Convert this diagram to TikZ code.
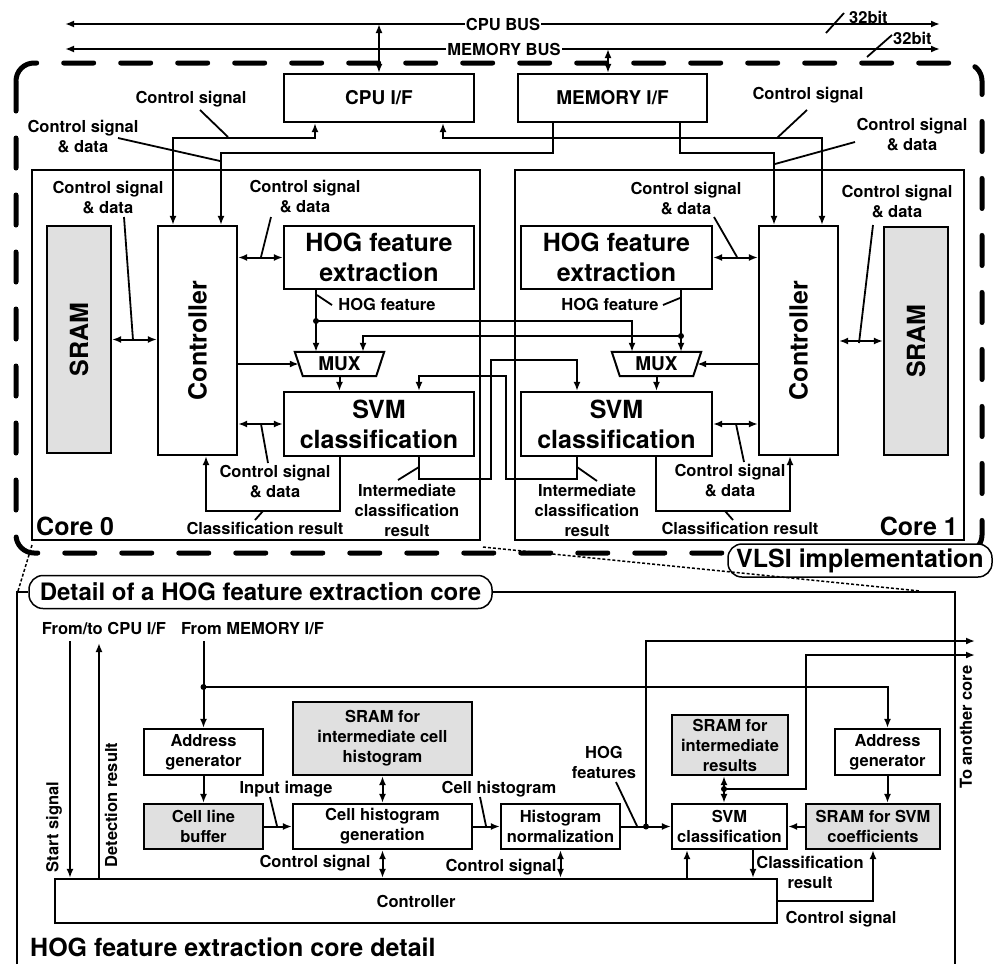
\documentclass[tikz,border=0pt]{standalone}
\usepackage{fontspec}
\setmainfont{TeX Gyre Heros}
\usetikzlibrary{arrows.meta,calc}
\definecolor{sramgray}{RGB}{224,224,224}
\newcommand\txtS{\fontsize{16.5}{20}\selectfont\bfseries}
\newcommand\txtL{\fontsize{25}{30}\selectfont\bfseries}
\newcommand\txtM{\fontsize{19}{22}\selectfont\bfseries}
\newcommand\txtT{\fontsize{24}{28}\selectfont\bfseries}
\tikzset{
 wire/.style={line width=2pt},
 box/.style={draw, line width=2.2pt, inner sep=0pt, align=center},
 gbox/.style={box, fill=sramgray},
 lbl/.style={inner sep=0pt, align=center, font=\txtS},
 lead/.style={line width=1.8pt},
 dotm/.style={circle, fill, inner sep=0pt, minimum size=6pt},
 tag/.style={draw, fill=white, rounded corners=14pt, line width=1.5pt, inner sep=0pt, minimum height=33pt},
 >={Latex[length=9pt,width=7pt]},
}
\begin{document}
\begin{tikzpicture}[x=1pt,y=-1pt]
\useasboundingbox (0,0) rectangle (995,964);
\fill[white] (0,0) rectangle (995,964);

% dashed VLSI frame
\draw[line width=5pt, dash pattern=on 30pt off 27pt, line cap=round, rounded corners=18pt] (16,63) rectangle (982,553);

% buses
\coordinate (cbL) at (65,24); \coordinate (cbR) at (940,24);
\coordinate (mbL) at (65,49); \coordinate (mbR) at (940,49);
\draw[wire,<->] (cbL) -- (cbR);
\draw[wire,<->] (mbL) -- (mbR);
\node[lbl, fill=white, inner xsep=1pt, inner ysep=2pt] (cpubus) at (503,24) {CPU BUS};
\node[lbl, fill=white, inner xsep=1pt, inner ysep=2pt] (membus) at (504,49) {MEMORY BUS};
\draw[lead] (826,33) -- (844,13);
\node[lbl, anchor=west] (bw1) at (849,17) {32bit};
\draw[lead] (867,57) -- (892,35);
\node[lbl, anchor=west] (bw2) at (893,38) {32bit};

% interfaces
\node[box, minimum width=190pt, minimum height=48pt, font=\txtM] (cpuif) at (379,98) {CPU I/F};
\node[box, minimum width=189pt, minimum height=48pt, font=\txtM] (memif) at (612.5,98) {MEMORY I/F};
\draw[wire,<->] (cpuif.north) -- (cpuif.north |- cbL);
\coordinate (mbx) at (608,49);
\draw[wire,<->] (memif.north -| mbx) -- (mbx);

% cores
\node[box, minimum width=448pt, minimum height=370pt] (core0) at (256,355) {};
\node[box, minimum width=449pt, minimum height=370pt] (core1) at (739.5,355) {};

% core 0 blocks
\node[gbox, minimum width=64pt, minimum height=227pt] (sram0) at (79,339.5) {};
\node[rotate=90, font=\txtL, inner sep=0pt] (sram0t) at (sram0) {SRAM};
\node[box, minimum width=79pt, minimum height=229pt] (ctrl0) at (197.5,340.5) {};
\node[rotate=90, font=\txtL, inner sep=0pt] (ctrl0t) at (ctrl0) {Controller};
\node[box, minimum width=190pt, minimum height=63pt, font=\txtL] (hog0) at (379,257.5) {HOG feature\\extraction};
\node[box, minimum width=190pt, minimum height=64pt, font=\txtL] (svm0) at (379,424) {SVM\\classification};
\node[inner sep=0pt, minimum width=89pt, minimum height=24pt, font=\txtM] (mux0) at (339.5,364) {MUX};
\draw[wire] (mux0.north west) -- (mux0.north east) -- ([xshift=-8pt]mux0.south east) -- ([xshift=8pt]mux0.south west) -- cycle;

% core 1 blocks
\node[box, minimum width=191pt, minimum height=63pt, font=\txtL] (hog1) at (616.5,257.5) {HOG feature\\extraction};
\node[box, minimum width=191pt, minimum height=64pt, font=\txtL] (svm1) at (616.5,424) {SVM\\classification};
\node[box, minimum width=79pt, minimum height=229pt] (ctrl1) at (798.5,340.5) {};
\node[rotate=90, font=\txtL, inner sep=0pt] (ctrl1t) at (ctrl1) {Controller};
\node[gbox, minimum width=64pt, minimum height=228pt] (sram1) at (916,341) {};
\node[rotate=90, font=\txtL, inner sep=0pt] (sram1t) at (sram1) {SRAM};
\node[inner sep=0pt, minimum width=89pt, minimum height=24pt, font=\txtM] (mux1) at (656.5,364) {MUX};
\draw[wire] (mux1.north west) -- (mux1.north east) -- ([xshift=-8pt]mux1.south east) -- ([xshift=8pt]mux1.south west) -- cycle;

% interface wires
\draw[wire,<->] (ctrl0.north -| 173,0) -- (173,138) -- (315,138) -- (cpuif.south -| 315,0);
\draw[wire,->] (memif.south -| 553,0) -- (553,153) -- (221,153) -- (ctrl0.north -| 221,0);
\draw[wire,->] (memif.south -| 680,0) -- (680,153) -- (774,153) -- (ctrl1.north -| 774,0);
\draw[wire,<->] (cpuif.south -| 443,0) -- (443,138) -- (822,138) -- (ctrl1.north -| 822,0);

% core 0 wires
\draw[wire,<->] (sram0.east) -- (ctrl0.west |- sram0.east);
\draw[wire,<->] (ctrl0.east |- hog0.west) -- (hog0.west);
\draw[wire,<->] (ctrl0.east |- svm0.west) -- (svm0.west);
\draw[wire,->] (ctrl0.east |- mux0.west) -- ([xshift=4pt]mux0.west);
\node[dotm] (dot0) at (316,321) {};
\draw[wire,->] (hog0.south -| dot0) -- (mux0.north -| dot0);
\draw[wire,->] (mux0.south) -- (svm0.north -| mux0.south);

% core 1 wires
\draw[wire,<->] (sram1.west) -- (ctrl1.east |- sram1.west);
\draw[wire,<->] (ctrl1.west |- hog1.east) -- (hog1.east);
\draw[wire,<->] (ctrl1.west |- svm1.east) -- (svm1.east);
\draw[wire,->] (ctrl1.west |- mux1.east) -- ([xshift=-4pt]mux1.east);
\node[dotm] (dot1) at (681,336) {};
\draw[wire,->] (hog1.south -| dot1) -- (mux1.north -| dot1);
\draw[wire,->] (mux1.south) -- (svm1.north -| mux1.south);

% cross feeds
\draw[wire,->] (dot0.center) -- (632,321) -- (mux1.north -| 632,0);
\draw[wire,->] (dot1.center) -- (363,336) -- (mux0.north -| 363,0);
\draw[wire,->] (svm0.south -| 419,0) -- (419,479) -- (491,479) -- (491,360) -- (577,360) -- (svm1.north -| 577,0);
\draw[wire,->] (svm1.south -| 577,0) -- (577,479) -- (506,479) -- (506,376) -- (419,376) -- (svm0.north -| 419,0);

% classification result loops
\draw[wire,->] (svm0.south -| 340,0) -- (340,511) -- (206,511) -- (ctrl0.south -| 206,0);
\draw[wire,->] (svm1.south -| 656,0) -- (656,511) -- (790,511) -- (ctrl1.south -| 790,0);

% top labels
\node[lbl] (t1) at (191,99) {Control signal};
\node[lbl] (t2) at (83,137) {Control signal\\\& data};
\node[lbl] (t3) at (808,95) {Control signal};
\node[lbl] (t4) at (912,135) {Control signal\\\& data};
\draw[lead] (200,110) -- (228,137);
\draw[lead] (118,138) -- (220,161);
\draw[lead] (807,110) -- (777,138);
\draw[lead] (855,142) -- (775,164);

% core labels
\node[lbl] (t5) at (108,198) {Control signal\\\& data};
\node[lbl] (t6) at (305,196.5) {Control signal\\\& data};
\node[lbl] (t7) at (686,199) {Control signal\\\& data};
\node[lbl] (t8) at (897,202) {Control signal\\\& data};
\draw[lead] (124,217) -- (133,340);
\draw[lead] (271,217) -- (261,257);
\draw[lead] (714,217) -- (737,257);
\draw[lead] (873,225) -- (859,343);
\node[lbl] (hf0) at (387,304) {HOG feature};
\node[lbl] (hf1) at (610,304) {HOG feature};
\draw[lead] (317,295) -- (332,305);
\draw[lead] (680,298) -- (663,305);
\node[lbl] (t9) at (275,482) {Control signal\\\& data};
\node[lbl] (t10) at (730,481) {Control signal\\\& data};
\draw[lead] (261,424) -- (268,463);
\draw[lead] (736,424) -- (744,462);
\node[lbl] (t11) at (407,510) {Intermediate\\classification\\result};
\node[lbl] (t12) at (587,510) {Intermediate\\classification\\result};
\draw[lead] (398,480) -- (419,467);
\draw[lead] (597,481) -- (577,467);
\node[lbl] (t13) at (265,528) {Classification result};
\node[lbl] (t14) at (740,528) {Classification result};
\draw[lead] (255,520) -- (263,511);
\draw[lead] (733,520) -- (725,511);
\node[font=\txtL, anchor=west, inner sep=0pt] (c0l) at (36,526) {Core 0};
\node[font=\txtL, anchor=east, inner sep=0pt] (c1l) at (958,526) {Core 1};

% detail frame
\node[tag, minimum width=264pt, font=\txtL] (vlsi) at (860,560.5) {VLSI implementation};
\node[tag, minimum width=463pt, font=\txtT] (dtl) at (260.5,592) {Detail of a HOG feature extraction core};
\draw[wire] (17,964) -- (17,592) -- (dtl.west);
\draw[wire] (dtl.east) -- (955,592) -- (955,964);
\draw[line width=1.5pt, dash pattern=on 3pt off 2pt] (32,545) -- (18,591);
\draw[line width=1.5pt, dash pattern=on 3pt off 2pt] (483,547) -- (920,591);

% detail blocks
\node[lbl] (fcpu) at (104,628) {From/to CPU I/F};
\node[lbl] (fmem) at (252.5,628) {From MEMORY I/F};
\node[box, minimum width=119pt, minimum height=46pt, font=\txtS] (addrL) at (203.5,752) {Address\\generator};
\node[gbox, minimum width=119pt, minimum height=45pt, font=\txtS] (cellbuf) at (203.5,826.5) {Cell line\\buffer};
\node[gbox, minimum width=179pt, minimum height=73pt, font=\txtS] (sramh) at (382.5,738.5) {SRAM for\\intermediate cell\\histogram};
\node[box, minimum width=179pt, minimum height=45pt, font=\txtS] (cellgen) at (382.5,826.5) {Cell histogram\\generation};
\node[box, minimum width=119pt, minimum height=45pt, font=\txtS] (hnorm) at (560.5,826.5) {Histogram\\normalization};
\node[gbox, minimum width=116pt, minimum height=60pt, font=\txtS] (sramr) at (730,745) {SRAM for\\intermediate\\results};
\node[box, minimum width=115pt, minimum height=45pt, font=\txtS] (svmc) at (729.5,826.5) {SVM\\classification};
\node[box, minimum width=105pt, minimum height=46pt, font=\txtS] (addrR) at (887.5,752) {Address\\generator};
\node[gbox, minimum width=134pt, minimum height=45pt, font=\txtS] (sramc) at (873,826.5) {SRAM for SVM\\coefficients};
\node[box, minimum width=722pt, minimum height=44pt, font=\txtS] (ctrl) at (416,901) {Controller};

% detail wires
\coordinate (ss) at (70,641);
\draw[wire,->] (ss) -- (ctrl.north -| ss);
\coordinate (drs) at (99,643);
\draw[wire,->] (ctrl.north -| drs) -- (drs);
\node[lbl, rotate=90] (sst) at (54,827) {Start signal};
\node[lbl, rotate=90] (drt) at (111,805) {Detection result};
\coordinate (fm) at (203.5,641);
\node[dotm] (dm) at (203.5,687) {};
\draw[wire,->] (fm) -- (addrL.north);
\draw[wire,->] (dm.center) -- (dm -| addrR.north) -- (addrR.north);
\draw[wire,->] (addrL.south) -- (cellbuf.north);
\draw[wire,->] (cellbuf.east) -- (cellgen.west);
\draw[wire,<->] (sramh.south) -- (cellgen.north);
\draw[wire,<->] (cellgen.south) -- (ctrl.north -| cellgen.south);
\draw[wire,->] (cellgen.east) -- (hnorm.west);
\draw[wire,<->] (hnorm.south) -- (ctrl.north -| hnorm.south);
\draw[wire,->] (hnorm.east) -- (svmc.west);
\node[dotm] (dh) at (646,826.5) {};
\coordinate (o1) at (975,641);
\draw[wire,->] (dh.center) -- (dh |- o1) -- (o1);
\draw[wire,<->] (sramr.south -| 724,0) -- (svmc.north -| 724,0);
\node[dotm] (dr2) at (724,789) {};
\coordinate (o2) at (975,655);
\draw[wire,->] (dr2.center) -- (806,789) -- (806,655) -- (o2);
\draw[wire,->] (sramc.west) -- (svmc.east);
\draw[wire,->] (addrR.south) -- (sramc.north -| addrR.south);
\draw[wire,->] (ctrl.north -| 687,0) -- (svmc.south -| 687,0);
\draw[wire,->] (svmc.south -| 753,0) -- (ctrl.north -| 753,0);
\draw[wire,->] (ctrl.east) -- (ctrl.east -| sramc.south) -- (sramc.south);

% detail labels
\node[lbl] (inim) at (286,789) {Input image};
\draw[lead] (270,797) -- (277,826);
\node[lbl] (chl) at (499,789) {Cell histogram};
\draw[lead] (480,797) -- (486,826);
\node[lbl] (cs1) at (315,863) {Control signal};
\node[lbl] (cs2) at (501,867) {Control signal};
\node[lbl] (hogf) at (604,762) {HOG\\features};
\draw[lead] (616,782) -- (637,826);
\node[lbl] (clr) at (810,872) {Classification\\result};
\node[lbl] (cs3) at (841,919) {Control signal};
\node[lbl, rotate=90] (tac) at (966,727) {To another core};
\node[font=\txtL, anchor=west, inner sep=0pt] (hdt) at (30,947) {HOG feature extraction core detail};
\end{tikzpicture}
\end{document}
